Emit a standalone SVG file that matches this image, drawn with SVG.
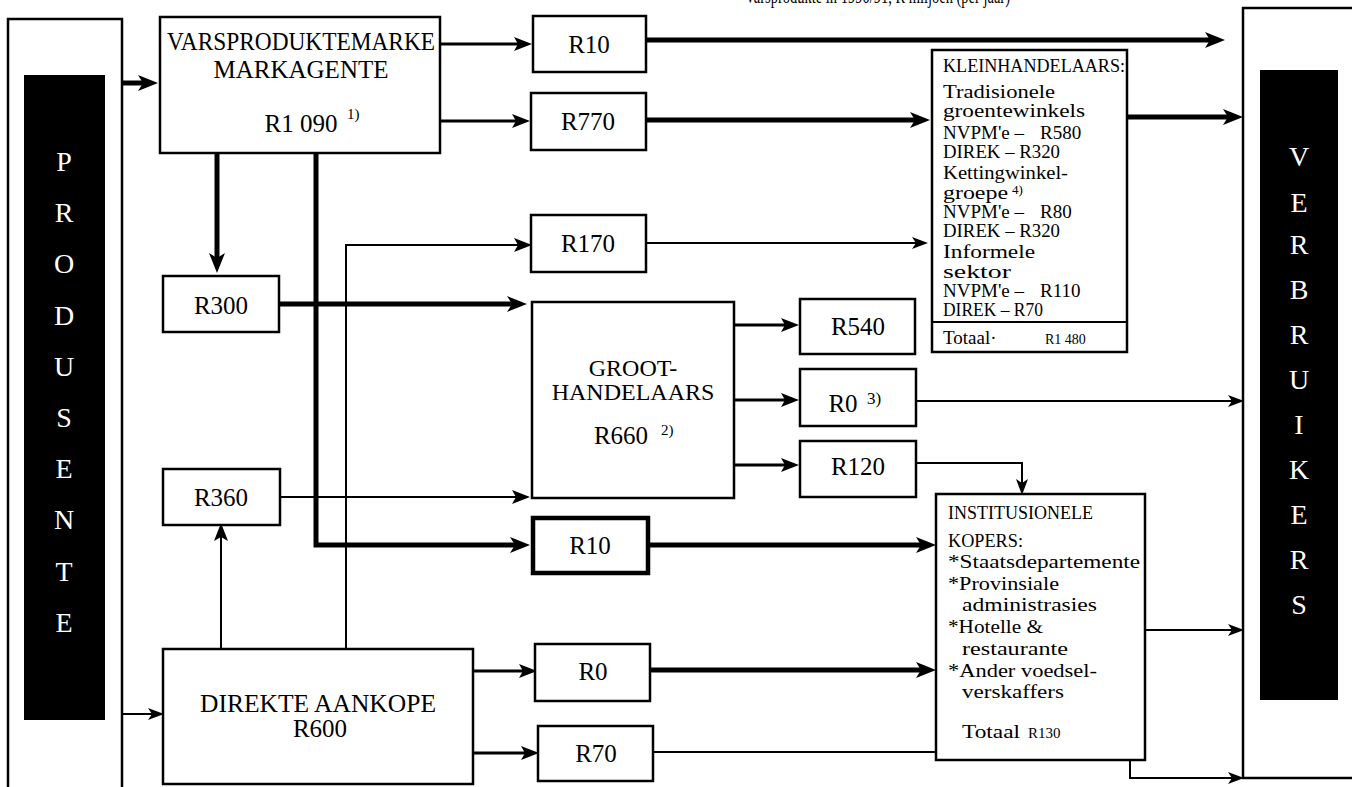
<svg xmlns="http://www.w3.org/2000/svg" width="1352" height="787" viewBox="0 0 1352 787">
<style>
text{font-family:"Liberation Serif","DejaVu Serif",serif;fill:#000}
.box{fill:#fff;stroke:#000;stroke-width:2.5}
.lbl{font-size:25px;text-anchor:middle}
.big{font-size:28px;fill:#fff;text-anchor:middle}
.sup{font-size:15px}
.kl{font-size:19px}
.sm{font-size:19px}
.thick{fill:none;stroke:#000;stroke-width:5}
.mid{fill:none;stroke:#000;stroke-width:3}
.thin{fill:none;stroke:#000;stroke-width:2}
</style>
<defs>
<marker id="aT" markerUnits="userSpaceOnUse" markerWidth="22" markerHeight="18" refX="10" refY="8" orient="auto"><path d="M0,0 L20,8 L0,16 L5,8 z" fill="#000"/></marker>
<marker id="aM" markerUnits="userSpaceOnUse" markerWidth="20" markerHeight="16" refX="8" refY="7" orient="auto"><path d="M0,0 L18,7 L0,14 L4,7 z" fill="#000"/></marker>
<marker id="a" markerUnits="userSpaceOnUse" markerWidth="18" markerHeight="14" refX="7" refY="6" orient="auto"><path d="M0,0 L16,6 L0,12 L4,6 z" fill="#000"/></marker>
</defs>
<rect width="1352" height="787" fill="#fff"/>
<text x="745" y="3" style="font-size:20px" textLength="265" lengthAdjust="spacingAndGlyphs">Varsprodukte in 1990/91, R miljoen (per jaar)</text>

<g id="connectors">
<path class="thick" d="M122,83 H148" marker-end="url(#aT)"/>
<path class="mid" d="M440,44 H522" marker-end="url(#aM)"/>
<path class="mid" d="M440,121 H520" marker-end="url(#aM)"/>
<path class="thick" d="M646,40 H1215" marker-end="url(#aT)"/>
<path class="thick" d="M646,120 H920" marker-end="url(#aT)"/>
<path class="thick" d="M1127,117 H1233" marker-end="url(#aT)"/>
<path class="thick" d="M217,153 V263" marker-end="url(#aT)"/>
<path class="thick" d="M279,304 H517" marker-end="url(#aT)"/>
<path class="thick" d="M316,153 V545 H520" marker-end="url(#aT)"/>
<path class="thick" d="M648,545 H926" marker-end="url(#aT)"/>
<path class="thick" d="M650,670 H926" marker-end="url(#aT)"/>
<path class="thin" d="M346,649 V245 H522" marker-end="url(#aM)"/>
<path class="thin" d="M646,243 H919" marker-end="url(#a)"/>
<path class="thin" d="M221,649 V533" marker-end="url(#aM)"/>
<path class="thin" d="M280,497 H520" marker-end="url(#aM)"/>
<path class="mid" d="M734,325 H789" marker-end="url(#aM)"/>
<path class="mid" d="M734,400 H789" marker-end="url(#aM)"/>
<path class="mid" d="M734,465 H789" marker-end="url(#aM)"/>
<path class="thin" d="M916,401 H1235" marker-end="url(#a)"/>
<path class="thin" d="M916,463 H1022 V486" marker-end="url(#a)"/>
<path class="thin" d="M1145,630 H1235" marker-end="url(#a)"/>
<path class="thin" d="M122,714 H155" marker-end="url(#a)"/>
<path class="mid" d="M473,671 H527" marker-end="url(#aM)"/>
<path class="mid" d="M473,753 H529" marker-end="url(#aM)"/>
<path class="thin" d="M653,752 H1130 V778 H1235" marker-end="url(#a)"/>
</g>

<g id="produsente">
<rect class="box" x="8" y="19" width="114" height="775"/>
<rect x="24" y="75" width="81" height="645" fill="#000"/>
<text class="big" x="64" y="171">P</text>
<text class="big" x="64" y="222">R</text>
<text class="big" x="64" y="273">O</text>
<text class="big" x="64" y="325">D</text>
<text class="big" x="64" y="376">U</text>
<text class="big" x="64" y="427">S</text>
<text class="big" x="64" y="478">E</text>
<text class="big" x="64" y="529">N</text>
<text class="big" x="64" y="581">T</text>
<text class="big" x="64" y="632">E</text>
</g>

<g id="verbruikers">
<rect class="box" x="1243" y="8" width="120" height="770"/>
<rect x="1260" y="70" width="78" height="630" fill="#000"/>
<text class="big" x="1299" y="166">V</text>
<text class="big" x="1299" y="212">E</text>
<text class="big" x="1299" y="254">R</text>
<text class="big" x="1299" y="299">B</text>
<text class="big" x="1299" y="344">R</text>
<text class="big" x="1299" y="389">U</text>
<text class="big" x="1299" y="434">I</text>
<text class="big" x="1299" y="479">K</text>
<text class="big" x="1299" y="524">E</text>
<text class="big" x="1299" y="569">R</text>
<text class="big" x="1299" y="614">S</text>
</g>

<g id="varsmarke">
<rect class="box" x="160" y="17" width="280" height="136"/>
<text class="lbl" x="301" y="50" textLength="268" lengthAdjust="spacingAndGlyphs">VARSPRODUKTEMARKE</text>
<text class="lbl" x="301" y="78">MARKAGENTE</text>
<text class="lbl" x="301" y="132">R1 090</text>
<text class="sup" x="347" y="119">1)</text>
</g>

<g id="r10top"><rect class="box" x="533" y="16" width="113" height="56"/><text class="lbl" x="589" y="53">R10</text></g>
<g id="r770"><rect class="box" x="531" y="93" width="115" height="57"/><text class="lbl" x="588" y="130">R770</text></g>
<g id="r170"><rect class="box" x="531" y="215" width="115" height="57"/><text class="lbl" x="588" y="252">R170</text></g>
<g id="r300"><rect class="box" x="163" y="276" width="116" height="56"/><text class="lbl" x="221" y="314">R300</text></g>
<g id="r360"><rect class="box" x="163" y="469" width="117" height="56"/><text class="lbl" x="221" y="506">R360</text></g>

<g id="groot">
<rect class="box" x="532" y="302" width="202" height="196"/>
<text class="lbl" x="633" y="376" style="font-size:24px">GROOT-</text>
<text class="lbl" x="633" y="400" style="font-size:24px">HANDELAARS</text>
<text class="lbl" x="621" y="444">R660</text>
<text class="sup" x="661" y="435">2)</text>
</g>

<g id="r540"><rect class="box" x="800" y="299" width="115" height="55"/><text class="lbl" x="858" y="335">R540</text></g>
<g id="r0a"><rect class="box" x="800" y="369" width="116" height="57"/><text class="lbl" x="843" y="412">R0</text><text class="sup" x="867" y="404" style="font-size:17px">3)</text></g>
<g id="r120"><rect class="box" x="800" y="441" width="116" height="56"/><text class="lbl" x="858" y="475">R120</text></g>
<g id="r10low"><rect x="533" y="518" width="115" height="55" fill="#fff" stroke="#000" stroke-width="4.5"/><text class="lbl" x="590" y="554">R10</text></g>

<g id="direkte">
<rect class="box" x="163" y="649" width="310" height="135"/>
<text class="lbl" x="318" y="712" textLength="236" lengthAdjust="spacingAndGlyphs">DIREKTE AANKOPE</text>
<text class="lbl" x="320" y="737">R600</text>
</g>
<g id="r0b"><rect class="box" x="535" y="644" width="115" height="57"/><text class="lbl" x="593" y="680">R0</text></g>
<g id="r70"><rect class="box" x="538" y="726" width="115" height="55"/><text class="lbl" x="596" y="762">R70</text></g>

<g id="kleinhandelaars">
<rect class="box" x="932" y="50" width="195" height="302"/>
<line x1="932" y1="322" x2="1127" y2="322" stroke="#000" stroke-width="2"/>
<text class="kl" x="943" y="72" textLength="182" lengthAdjust="spacingAndGlyphs">KLEINHANDELAARS:</text>
<text class="kl" x="943" y="98" textLength="112" lengthAdjust="spacingAndGlyphs">Tradisionele</text>
<text class="kl" x="943" y="117" textLength="142" lengthAdjust="spacingAndGlyphs">groentewinkels</text>
<text class="sm" x="943" y="139">NVPM'e –</text><text class="sm" x="1040" y="139">R580</text>
<text class="sm" x="943" y="158" textLength="117" lengthAdjust="spacingAndGlyphs">DIREK – R320</text>
<text class="kl" x="943" y="179" textLength="125" lengthAdjust="spacingAndGlyphs">Kettingwinkel-</text>
<text class="kl" x="943" y="199" textLength="65" lengthAdjust="spacingAndGlyphs">groepe</text><text class="sup" x="1012" y="194" style="font-size:13px">4)</text>
<text class="sm" x="943" y="218">NVPM'e –</text><text class="sm" x="1040" y="218">R80</text>
<text class="sm" x="943" y="237" textLength="117" lengthAdjust="spacingAndGlyphs">DIREK – R320</text>
<text class="kl" x="943" y="258" textLength="92" lengthAdjust="spacingAndGlyphs">Informele</text>
<text class="kl" x="943" y="278" textLength="68" lengthAdjust="spacingAndGlyphs">sektor</text>
<text class="sm" x="943" y="297">NVPM'e –</text><text class="sm" x="1040" y="297">R110</text>
<text class="sm" x="943" y="316" textLength="100" lengthAdjust="spacingAndGlyphs">DIREK – R70</text>
<text class="sm" x="943" y="344">Totaal·</text><text style="font-size:14px" x="1045" y="344">R1 480</text>
</g>

<g id="institusionele">
<rect class="box" x="936" y="494" width="209" height="266"/>
<text class="kl" x="948" y="519" textLength="145" lengthAdjust="spacingAndGlyphs">INSTITUSIONELE</text>
<text class="kl" x="948" y="547" textLength="75" lengthAdjust="spacingAndGlyphs">KOPERS:</text>
<text class="kl" x="948" y="568" textLength="192" lengthAdjust="spacingAndGlyphs">*Staatsdepartemente</text>
<text class="kl" x="948" y="590" textLength="111" lengthAdjust="spacingAndGlyphs">*Provinsiale</text>
<text class="kl" x="962" y="611" textLength="135" lengthAdjust="spacingAndGlyphs">administrasies</text>
<text class="kl" x="948" y="633" textLength="95" lengthAdjust="spacingAndGlyphs">*Hotelle &amp;</text>
<text class="kl" x="962" y="655" textLength="106" lengthAdjust="spacingAndGlyphs">restaurante</text>
<text class="kl" x="948" y="677" textLength="149" lengthAdjust="spacingAndGlyphs">*Ander voedsel-</text>
<text class="kl" x="962" y="698" textLength="102" lengthAdjust="spacingAndGlyphs">verskaffers</text>
<text class="sm" x="962" y="738" textLength="58" lengthAdjust="spacingAndGlyphs">Totaal</text><text style="font-size:15px" x="1028" y="738">R130</text>
</g>
</svg>
